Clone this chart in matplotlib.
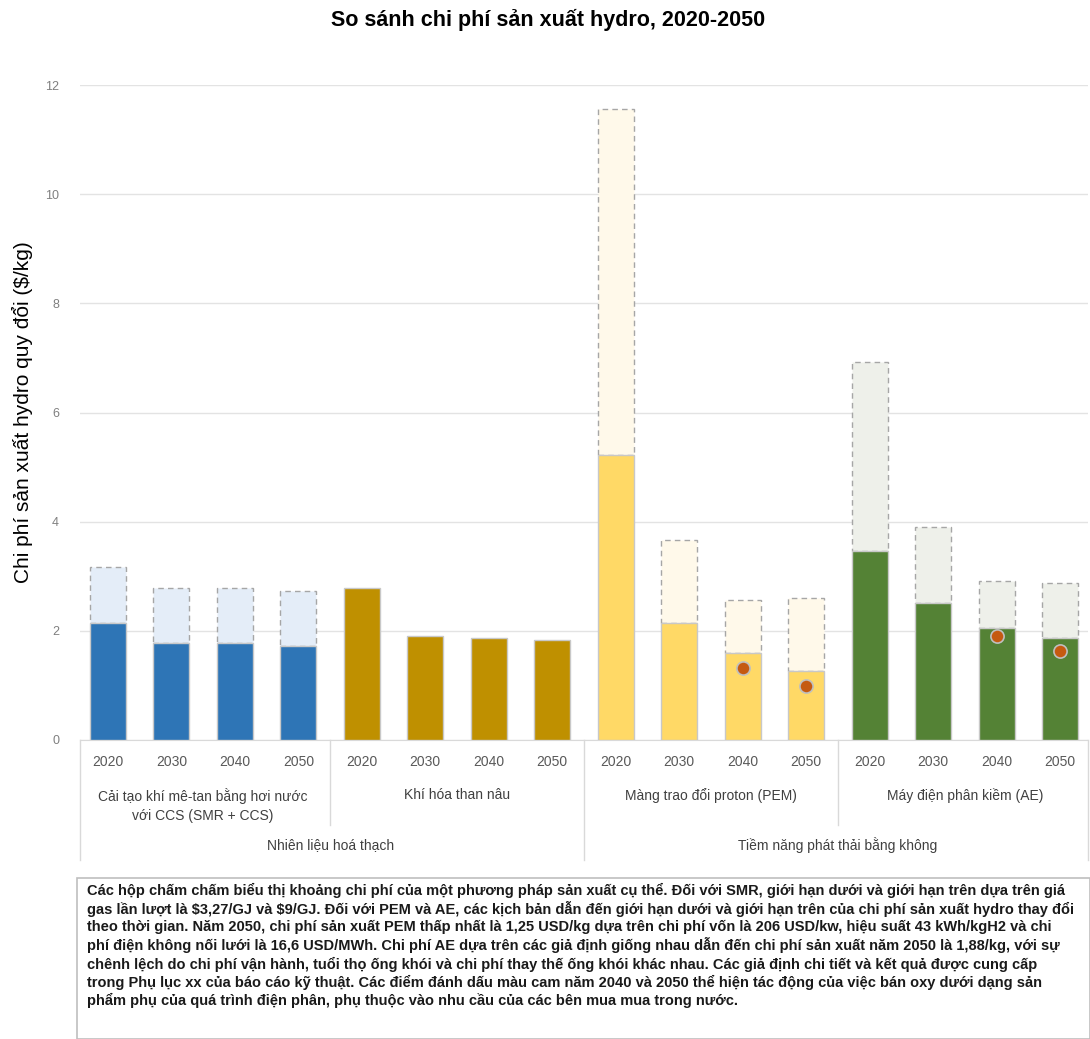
import matplotlib.pyplot as plt
from matplotlib.patches import Rectangle
import matplotlib.transforms as mtransforms

plt.rcParams['font.family'] = ['Liberation Sans', 'DejaVu Sans']

years = ["2020", "2030", "2040", "2050"]
subgroups = ["Cải tạo khí mê-tan bằng hơi nước\nvới CCS (SMR + CCS)", "Khí hóa than nâu",
             "Màng trao đổi proton (PEM)", "Máy điện phân kiềm (AE)"]
groups = ["Nhiên liệu hoá thạch", "Tiềm năng phát thải bằng không"]

# low estimate (solid bar) and high estimate (dashed box top)
smr_low = [2.14, 1.78, 1.78, 1.72]
smr_high = [3.17, 2.78, 2.78, 2.73]
coal_low = [2.78, 1.90, 1.87, 1.83]
pem_low = [5.22, 2.14, 1.59, 1.26]
pem_high = [11.56, 3.66, 2.56, 2.60]
ae_low = [3.46, 2.51, 2.05, 1.87]
ae_high = [6.92, 3.90, 2.91, 2.88]
# orange markers: with oxygen sales (2040, 2050)
pem_oxy = [1.32, 0.99]
ae_oxy = [1.90, 1.63]

series = [
    (smr_low, smr_high, "#2e75b6", "#e4edf8"),
    (coal_low, None, "#bf9000", None),
    (pem_low, pem_high, "#ffd966", "#fff9ea"),
    (ae_low, ae_high, "#548235", "#eef0ea"),
]

fig = plt.figure(figsize=(10.9, 10.39), dpi=100)
W, H = 1090, 1039
ax = fig.add_axes([80 / W, (H - 740) / H, 1008 / W, 655 / H])

bw = 0.57
for gi, (low, high, c, cl) in enumerate(series):
    xs = [gi * 4 + i for i in range(4)]
    if high is not None:
        ax.bar(xs, [h - l for h, l in zip(high, low)], bottom=low, width=bw, color=cl,
               edgecolor="#a6a6a6", linestyle=(0, (4, 3)), linewidth=1.0, zorder=2)
    ax.bar(xs, low, width=bw, color=c, edgecolor="#c8c8c8", linewidth=1.0, zorder=3)

ax.scatter([10, 11], pem_oxy, s=90, color="#c55a11", edgecolor="#bfbfbf", linewidth=1.2, zorder=4)
ax.scatter([14, 15], ae_oxy, s=90, color="#c55a11", edgecolor="#bfbfbf", linewidth=1.2, zorder=4)

ax.set_xlim(-0.44, 15.44)
ax.set_ylim(0, 12)
ax.set_yticks(range(0, 13, 2))
ax.tick_params(axis='y', length=0, labelsize=9, labelcolor="#7f7f7f", pad=15)
ax.set_xticks([])
ax.grid(axis='y', color="#e3e3e3", linewidth=1)
ax.set_axisbelow(True)
for s in ["left", "right", "top"]:
    ax.spines[s].set_visible(False)
ax.spines["bottom"].set_color("#d9d9d9")
ax.set_ylabel("Chi phí sản xuất hydro quy đổi (\\$/kg)", fontsize=15, va='center')
ax.yaxis.set_label_coords(-58 / 1008, 0.5)

# multi-level category axis
tr = mtransforms.blended_transform_factory(ax.transData, ax.transAxes)
for k in range(16):
    ax.text(k, -0.034, years[k % 4], transform=tr, ha='center', va='center',
            fontsize=10, color="#595959", clip_on=False)
for gi, name in enumerate(subgroups):
    ax.text(gi * 4 + 1.5, -0.073, name, transform=tr, ha='center', va='top',
            fontsize=10, color="#404040", linespacing=1.5, clip_on=False)
for gi, name in enumerate(groups):
    ax.text(gi * 8 + 3.5, -0.16, name, transform=tr, ha='center', va='center',
            fontsize=10, color="#404040", clip_on=False)
for xv, ybot in [(-0.44, -0.183), (3.5, -0.13), (7.5, -0.183), (11.5, -0.13), (15.44, -0.183)]:
    ax.plot([xv, xv], [0, ybot], transform=tr, color="#d9d9d9", linewidth=1, clip_on=False)

fig.text(548 / W, 1 - 20 / H, "So sánh chi phí sản xuất hydro, 2020-2050", ha='center', va='center',
         fontsize=15.5, fontweight='bold')

# footnote box
fig.add_artist(Rectangle((77 / W, 0), 1013 / W, (H - 878) / H, transform=fig.transFigure,
                         facecolor='white', edgecolor="#bfbfbf", linewidth=1.2))
note = ("Các hộp chấm chấm biểu thị khoảng chi phí của một phương pháp sản xuất cụ thể. Đối với SMR, giới hạn dưới và giới hạn trên dựa trên giá\n"
        "gas lần lượt là \\$3,27/GJ và \\$9/GJ. Đối với PEM và AE, các kịch bản dẫn đến giới hạn dưới và giới hạn trên của chi phí sản xuất hydro thay đổi\n"
        "theo thời gian. Năm 2050, chi phí sản xuất PEM thấp nhất là 1,25 USD/kg dựa trên chi phí vốn là 206 USD/kw, hiệu suất 43 kWh/kgH2 và chi\n"
        "phí điện không nối lưới là 16,6 USD/MWh. Chi phí AE dựa trên các giả định giống nhau dẫn đến chi phí sản xuất năm 2050 là 1,88/kg, với sự\n"
        "chênh lệch do chi phí vận hành, tuổi thọ ống khói và chi phí thay thế ống khói khác nhau. Các giả định chi tiết và kết quả được cung cấp\n"
        "trong Phụ lục xx của báo cáo kỹ thuật. Các điểm đánh dấu màu cam năm 2040 và 2050 thể hiện tác động của việc bán oxy dưới dạng sản\n"
        "phẩm phụ của quá trình điện phân, phụ thuộc vào nhu cầu của các bên mua mua trong nước.")
fig.text(87 / W, 1 - 883 / H, note, ha='left', va='top', fontsize=10.5, fontweight='bold',
         color="#1a1a1a", linespacing=1.25)

plt.savefig("out.png", dpi=100)
